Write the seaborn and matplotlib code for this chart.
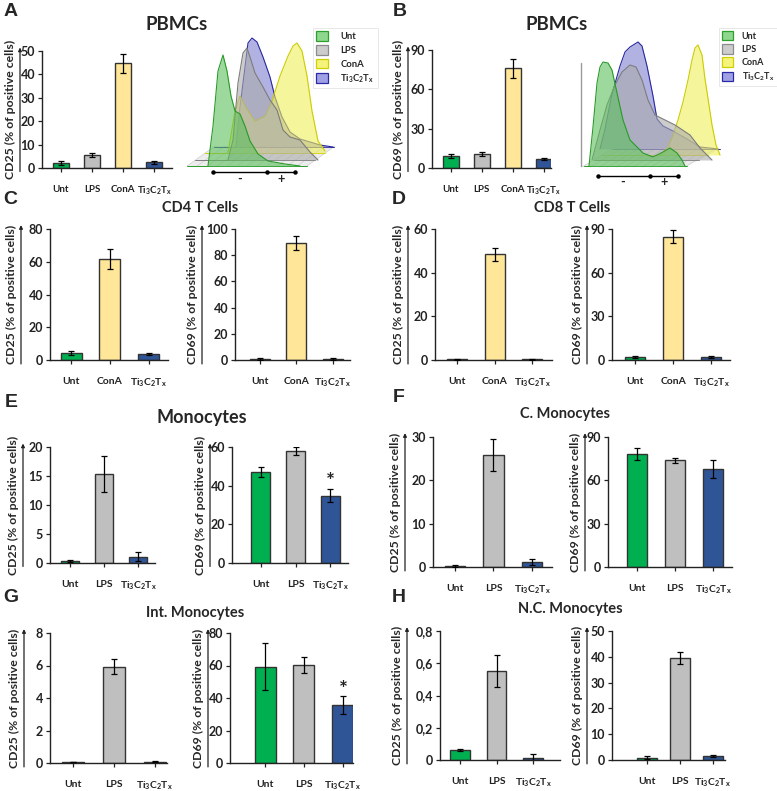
import matplotlib
matplotlib.use("Agg")
import matplotlib.pyplot as plt
import seaborn as sns
from matplotlib.patches import Patch, Polygon

sns.set_style("ticks")
plt.rcParams["font.family"] = ["Lato", "DejaVu Sans"]
plt.rcParams["font.weight"] = "bold"
plt.rcParams["axes.labelweight"] = "bold"
plt.rcParams["mathtext.fontset"] = "custom"
plt.rcParams["mathtext.rm"] = "Lato:bold"
plt.rcParams["mathtext.it"] = "Lato:bold"
plt.rcParams["mathtext.bf"] = "Lato:bold"

TI = r"Ti$_3$C$_2$T$_\mathrm{x}$"

# categories
cats4 = ["Unt", "LPS", "ConA", TI]
cats_cona = ["Unt", "ConA", TI]
cats_lps = ["Unt", "LPS", TI]

# % of positive cells (mean, error)
pbmc_cd25 = [2.0, 5.6, 44.7, 2.4]
pbmc_cd25_err = [0.9, 0.8, 4.2, 0.5]
pbmc_cd69 = [9.1, 10.7, 76.0, 6.6]
pbmc_cd69_err = [1.5, 1.4, 7.0, 0.8]

cd4_cd25 = [4.1, 61.7, 3.5]
cd4_cd25_err = [1.2, 6.0, 0.7]
cd4_cd69 = [0.8, 89.5, 0.8]
cd4_cd69_err = [0.5, 5.4, 0.5]

cd8_cd25 = [0.3, 48.4, 0.3]
cd8_cd25_err = [0.1, 2.9, 0.1]
cd8_cd69 = [2.0, 84.7, 2.3]
cd8_cd69_err = [0.6, 4.6, 0.6]

mono_cd25 = [0.3, 15.3, 1.1]
mono_cd25_err = [0.2, 3.1, 0.75]
mono_cd69 = [47.2, 58.1, 34.8]
mono_cd69_err = [2.5, 2.1, 3.5]

cmono_cd25 = [0.2, 25.8, 1.15]
cmono_cd25_err = [0.2, 3.7, 0.8]
cmono_cd69 = [78.2, 73.8, 67.6]
cmono_cd69_err = [3.9, 1.5, 6.3]

imono_cd25 = [0.05, 5.93, 0.08]
imono_cd25_err = [0.0, 0.46, 0.04]
imono_cd69 = [59.3, 60.3, 35.7]
imono_cd69_err = [14.6, 5.1, 5.3]

ncmono_cd25 = [0.062, 0.554, 0.012]
ncmono_cd25_err = [0.004, 0.1, 0.025]
ncmono_cd69 = [0.9, 39.6, 1.7]
ncmono_cd69_err = [0.6, 2.4, 0.4]

# flow histograms: channel position and event count for each condition
hist_a_unt_ch = [25, 30, 35, 40, 44, 48, 52, 57, 62, 67, 75, 85, 102, 117]
hist_a_unt_n = [0, 40, 95, 111, 95, 70, 55, 52, 40, 25, 12, 5, 2, 0]
hist_a_lps_ch = [45, 50, 55, 60, 64, 67, 72, 80, 87, 94, 100, 107, 117, 127, 135]
hist_a_lps_n = [0, 20, 77, 107, 112, 103, 87, 73, 60, 50, 30, 23, 20, 8, 0]
hist_a_cona_ch = [45, 52, 57, 62, 72, 82, 89, 97, 105, 110, 114, 119, 124, 129, 135, 142]
hist_a_cona_n = [0, 42, 57, 47, 32, 37, 52, 77, 97, 107, 110, 102, 77, 42, 12, 2]
hist_a_ti_ch = [53, 57, 62, 65, 69, 74, 80, 87, 92, 99, 107, 117, 137, 150]
hist_a_ti_n = [0, 40, 80, 104, 109, 105, 90, 70, 50, 30, 15, 8, 2, 0]

hist_b_unt_ch = [14, 18, 22, 25, 28, 33, 37, 42, 48, 55, 62, 68, 78, 88, 95, 102, 107, 110]
hist_b_unt_n = [0, 39, 83, 99, 104, 103, 96, 73, 46, 26, 19, 13, 9, 14, 18, 13, 6, 0]
hist_b_lps_ch = [17, 25, 32, 40, 47, 55, 61, 67, 73, 80, 90, 100, 115, 125, 137]
hist_b_lps_n = [0, 30, 55, 75, 88, 95, 93, 80, 60, 45, 40, 35, 25, 12, 0]
hist_b_cona_ch = [85, 93, 98, 103, 108, 113, 117, 120, 123, 127, 130, 134, 137, 141, 145]
hist_b_cona_n = [0, 8, 20, 35, 53, 75, 95, 107, 110, 100, 76, 50, 30, 10, 0]
hist_b_ti_ch = [25, 30, 37, 45, 50, 55, 63, 67, 72, 78, 82, 88, 98, 112, 125, 143]
hist_b_ti_n = [0, 20, 55, 83, 97, 102, 107, 103, 83, 53, 30, 23, 18, 10, 2, 0]

BAR_COLORS = {"Unt": "#00B050", "LPS": "#BFBFBF", "ConA": "#FFE699", TI: "#2F5597"}
HIST_COLORS = {"Unt": ("#5cc05c", "#2a9a2a"), "LPS": ("#ababab", "#7c7c7c"),
               "ConA": ("#efef5a", "#cccc00"), TI: ("#8080d0", "#2828a0")}
LEGEND_COLORS = {"Unt": ("#8fd68f", "#2ca02c"), "LPS": ("#cccccc", "#8c8c8c"),
                 "ConA": ("#f4f47c", "#d0d000"), TI: ("#a0a0e4", "#2a2aa8")}

W, H = 777, 791
fig = plt.figure(figsize=(W / 100, H / 100), dpi=100)


def px_axes(left, right, top, bottom):
    return fig.add_axes([left / W, 1 - bottom / H, (right - left) / W, (bottom - top) / H])


def fig_text(x, y, s, **kw):
    fig.text(x / W, 1 - y / H, s, **kw)


def bar_panel(box, cats, vals, errs, ymax, step, xlim, marker, arrow_px,
              width=0.54, ticklabels=None, star=None, xsize=7.5):
    ax = px_axes(*box)
    sns.barplot(x=cats, y=vals, hue=cats, order=cats, hue_order=cats,
                palette=BAR_COLORS, legend=False, width=width, saturation=1,
                edgecolor="#333333", linewidth=1.0, errorbar=None, ax=ax)
    ax.errorbar(range(len(vals)), vals, yerr=errs, fmt="none", ecolor="black",
                elinewidth=0.9, capsize=2, capthick=0.9, zorder=5)
    sns.despine(ax=ax)
    ticks = [i * step for i in range(int(round(ymax / step)) + 1)]
    ax.set_ylim(0, ymax)
    ax.set_yticks(ticks)
    if ticklabels is not None:
        ax.set_yticklabels(ticklabels)
    ax.set_xlim(*xlim)
    for s in ("left", "bottom"):
        ax.spines[s].set_linewidth(1.0)
        ax.spines[s].set_color("#222222")
    ax.tick_params(axis="y", length=3, width=0.9, labelsize=9, pad=2, colors="#222222")
    ax.tick_params(axis="x", length=3, width=0.9, labelsize=xsize, pad=9, colors="#222222")
    ax.set_xlabel("")
    wpx = box[1] - box[0]
    ax_x = -arrow_px / wpx
    ax.annotate("", xy=(ax_x, 1.03), xytext=(ax_x, -0.03), xycoords="axes fraction",
                arrowprops=dict(arrowstyle="-|>", color="#222222", lw=0.9,
                                mutation_scale=5, shrinkA=0, shrinkB=0),
                annotation_clip=False)
    ax.set_ylabel(marker + " (% of positive cells)", fontsize=8.8, va="center")
    ax.yaxis.set_label_coords(-(arrow_px + 10) / wpx, 0.5)
    if star is not None:
        ax.text(star[0], star[1], "*", ha="center", va="center", fontsize=15,
                fontweight="bold", color="#222222")
    return ax


def hist_panel(box, layers, floor, scale, wall=None):
    ax = px_axes(*box)
    ax.set_xlim(0, box[1] - box[0])
    ax.set_ylim(0, box[3] - box[2])
    ax.axis("off")
    (fl, fr), (bl, br), yf, yb = floor
    ax.add_patch(Polygon([(fl, yf), (fr, yf), (br, yb), (bl, yb)], closed=True,
                         facecolor="#ececec", edgecolor="none", zorder=0))
    for i in range(13):
        t = i / 12
        x0 = fl + t * (fr - fl)
        ax.plot([x0, x0 + (bl - fl)], [yf, yb], color="#cfcfcf", lw=0.5, zorder=0.5)
    if wall is not None:
        ax.plot([wall[0], wall[0]], [wall[1], wall[2]], color="#9a9a9a", lw=1.0, zorder=0.6)
    for z, (name, ch, n, base) in enumerate(reversed(layers)):
        face, edge = HIST_COLORS[name]
        t = (base - yf) / (yb - yf)
        lx = fl + t * (bl - fl)
        rx = fr + t * (br - fr)
        ax.plot([lx, rx], [base, base], color=edge, lw=0.7, zorder=1 + z)
        top = [base + v for v in n]
        ax.fill_between(ch, base, top, color=face, alpha=0.6, lw=0, zorder=1 + z)
        ax.plot(ch, top, color=edge, lw=0.8, zorder=1 + z)
    x0, xm, x1, ys, xminus, xplus, yt = scale
    ax.plot([x0, x1], [ys, ys], color="black", lw=1.0, zorder=10)
    ax.plot([x0, xm, x1], [ys, ys, ys], ls="none", marker="o", ms=2.2, color="black", zorder=10)
    ax.text(xminus, yt, "-", ha="center", va="center", fontsize=9, fontweight="bold")
    ax.text(xplus, yt, "+", ha="center", va="center", fontsize=9, fontweight="bold")
    return ax


def flow_legend(x, y, pad, size):
    handles = [Patch(facecolor=LEGEND_COLORS[c][0], edgecolor=LEGEND_COLORS[c][1], lw=0.9)
               for c in cats4]
    leg = fig.legend(handles, cats4, loc="upper left", bbox_to_anchor=(x / W, 1 - y / H),
                     fontsize=size, handlelength=1.25, handleheight=1.2,
                     labelspacing=0.38, handletextpad=pad, borderpad=0.35,
                     borderaxespad=0, frameon=True, fancybox=False, edgecolor="#dddddd")
    leg.get_frame().set_linewidth(0.6)


# ---- A ----
bar_panel((42, 172, 51, 168), cats4, pbmc_cd25, pbmc_cd25_err, 50, 10, (-0.61, 3.58),
          "CD25", 22, width=0.52, xsize=7)
hist_panel((183, 340, 30, 185),
           [("Unt", hist_a_unt_ch, hist_a_unt_n, 19), ("LPS", hist_a_lps_ch, hist_a_lps_n, 25),
            ("ConA", hist_a_cona_ch, hist_a_cona_n, 32), (TI, hist_a_ti_ch, hist_a_ti_n, 38)],
           ((4, 124), (32, 152), 19, 39), (30, 84, 112, 13, 57, 98, 6))
flow_legend(313, 28, 1.3, 6.8)

# ---- B ----
bar_panel((432, 551, 50, 168), cats4, pbmc_cd69, pbmc_cd69_err, 90, 30, (-0.61, 3.23),
          "CD69", 24, width=0.52, xsize=7)
hist_panel((575, 725, 30, 185),
           [("Unt", hist_b_unt_ch, hist_b_unt_n, 19), ("LPS", hist_b_lps_ch, hist_b_lps_n, 25),
            ("ConA", hist_b_cona_ch, hist_b_cona_n, 30), (TI, hist_b_ti_ch, hist_b_ti_n, 36)],
           ((7, 110), (37, 145), 18, 36), (23, 75, 103, 9, 48, 89, 3), wall=(6, 19, 122))
flow_legend(719, 28, 0.9, 6.5)

# ---- C / D ----
bar_panel((50, 168, 229, 360), cats_cona, cd4_cd25, cd4_cd25_err, 80, 20, (-0.54, 2.49), "CD25", 29)
bar_panel((235, 350, 229, 360), cats_cona, cd4_cd69, cd4_cd69_err, 100, 20, (-0.68, 2.47), "CD69", 33)
bar_panel((435, 552, 229, 360), cats_cona, cd8_cd25, cd8_cd25_err, 60, 20, (-0.59, 2.53), "CD25", 27)
bar_panel((612, 730, 229, 360), cats_cona, cd8_cd69, cd8_cd69_err, 90, 30, (-0.61, 2.5), "CD69", 25)

# ---- E / F ----
bar_panel((50, 155, 447, 563), cats_lps, mono_cd25, mono_cd25_err, 20, 5, (-0.59, 2.5), "CD25", 27)
bar_panel((232, 348, 447, 563), cats_lps, mono_cd69, mono_cd69_err, 60, 20, (-0.83, 2.51), "CD69", 22,
          star=(2, 42))
bar_panel((433, 552, 437, 567), cats_lps, cmono_cd25, cmono_cd25_err, 30, 10, (-0.57, 2.52), "CD25", 28)
bar_panel((608, 732, 437, 567), cats_lps, cmono_cd69, cmono_cd69_err, 90, 30, (-0.76, 2.5), "CD69", 23)

# ---- G / H ----
bar_panel((50, 167, 633, 763), cats_lps, imono_cd25, imono_cd25_err, 8, 2, (-0.56, 2.3), "CD25", 26)
bar_panel((230, 353, 633, 763), cats_lps, imono_cd69, imono_cd69_err, 80, 20, (-0.9, 2.26), "CD69", 22,
          star=(2, 45))
bar_panel((440, 560, 631, 760), cats_lps, ncmono_cd25, ncmono_cd25_err, 0.8, 0.2, (-0.55, 2.74), "CD25", 33,
          ticklabels=["0", "0,2", "0,4", "0,6", "0,8"])
bar_panel((612, 725, 631, 760), cats_lps, ncmono_cd69, ncmono_cd69_err, 50, 10, (-1.05, 2.37), "CD69", 25,
          width=0.6)

# titles
fig_text(177, 24, "PBMCs", ha="center", va="center", fontsize=13.5, fontweight="bold")
fig_text(557, 24, "PBMCs", ha="center", va="center", fontsize=13.5, fontweight="bold")
fig_text(200, 208, "CD4 T Cells", ha="center", va="center", fontsize=10.5, fontweight="bold")
fig_text(572, 208, "CD8 T Cells", ha="center", va="center", fontsize=10.5, fontweight="bold")
fig_text(202, 418, "Monocytes", ha="center", va="center", fontsize=13, fontweight="bold")
fig_text(565, 414, "C. Monocytes", ha="center", va="center", fontsize=10.5, fontweight="bold")
fig_text(195, 613, "Int. Monocytes", ha="center", va="center", fontsize=10.5, fontweight="bold")
fig_text(570, 609, "N.C. Monocytes", ha="center", va="center", fontsize=10.5, fontweight="bold")

# panel letters
for letter, x, y in [("A", 11, 11), ("B", 400, 11), ("C", 10, 200), ("D", 399, 200),
                     ("E", 11, 402), ("F", 399, 397), ("G", 11, 597), ("H", 399, 597)]:
    fig_text(x, y, letter, ha="center", va="center", fontsize=14, fontweight="bold",
             family="Liberation Sans")

fig.savefig("out.png", dpi=100)
